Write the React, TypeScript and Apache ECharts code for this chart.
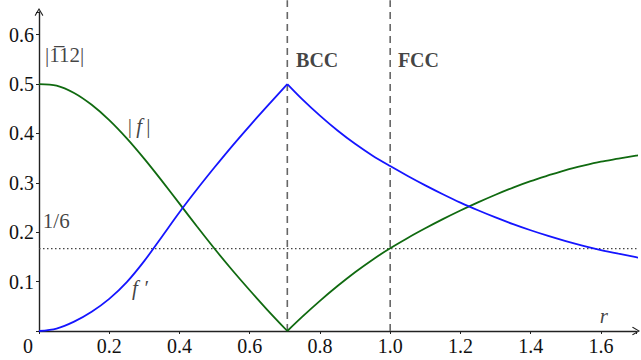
import React, { useEffect, useRef } from "react";
import * as echarts from "echarts";

// r values on each side of the BCC cusp (r = 1/sqrt(2))
const rLeft = [0, 0.05, 0.1, 0.15, 0.2, 0.25, 0.3, 0.35, 0.4, 0.45, 0.5, 0.55, 0.6, 0.65, 0.7071];
const rRight = [
  0.7071, 0.75, 0.8, 0.85, 0.9, 0.95, 1.0, 1.05, 1.1, 1.15, 1.2, 1.25, 1.3, 1.35, 1.4, 1.45, 1.5,
  1.55, 1.6, 1.65, 1.7, 1.71,
];

// |f| (green)
const absFLeft = [0.5, 0.497, 0.482, 0.458, 0.427, 0.39, 0.3485, 0.304, 0.258, 0.2115, 0.1665, 0.1235, 0.0825, 0.043, 0];
const absFRight = [
  0, 0.029, 0.061, 0.091, 0.119, 0.1445, 0.1675, 0.1885, 0.208, 0.2265, 0.244, 0.2605, 0.276, 0.2905,
  0.3035, 0.315, 0.326, 0.335, 0.343, 0.349, 0.355, 0.356,
];

// f' (blue)
const fPrimeLeft = [0, 0.005, 0.019, 0.039, 0.065, 0.099, 0.142, 0.191, 0.2405, 0.287, 0.3315, 0.3745, 0.4155, 0.4555, 0.5];
const fPrimeRight = [
  0.5, 0.469, 0.436, 0.406, 0.379, 0.355, 0.334, 0.314, 0.295, 0.277, 0.26, 0.2445, 0.23, 0.2165,
  0.204, 0.1925, 0.182, 0.1725, 0.164, 0.1565, 0.1495, 0.148,
];

// reference lattices and the 1/6 level
const latticeR = [0.7071, 1.0];
const sixthLevel = 1 / 6;

const xTicks = [0, 0.2, 0.4, 0.6, 0.8, 1.0, 1.2, 1.4, 1.6];
const yTicks = [0.1, 0.2, 0.3, 0.4, 0.5, 0.6];

// annotations placed in data coordinates: [r, value, text]
const annotations: [number, number, string][] = [
  [0.017, 0.559, "{n||1\u030512|}"],
  [0.011, 0.223, "{n|1/6}"],
  [0.732, 0.548, "{b|BCC}"],
  [1.022, 0.548, "{b|FCC}"],
  [0.253, 0.415, "{n||\u2009}{i|f}{n|\u2009|}"],
  [0.265, 0.087, "{i|f \u2032}"],
  [1.597, 0.03, "{i|r}"],
];

const GREEN = "#106a10";
const BLUE = "#1515ff";
const SERIF = "Liberation Serif";
const INK = "#111";

const zip = (xs: number[], ys: number[]) => xs.map((x, i) => [x, ys[i]]);
const onGrid = (v: number, step: number) => Math.abs(v / step - Math.round(v / step)) < 1e-6;

const chevron = "path://M50,0 L100,82 L90,92 L50,24 L10,92 L0,82 Z";

export default function App() {
  const ref = useRef<HTMLDivElement>(null);

  useEffect(() => {
    if (!ref.current) return;
    const chart = echarts.init(ref.current, undefined, { renderer: "svg" });

    const curve = (data: number[][], color: string) => ({
      type: "line",
      data,
      smooth: 0.3,
      symbol: "none",
      clip: false,
      lineStyle: { color, width: 1.8 },
      z: 3,
    });

    const richText = {
      n: { fontFamily: SERIF, fontSize: 21, color: INK },
      i: { fontFamily: SERIF, fontSize: 21, fontStyle: "italic", color: INK },
      b: { fontFamily: SERIF, fontSize: 20, fontWeight: "bold", color: INK },
    };

    chart.setOption({
      animation: false,
      textStyle: { fontFamily: SERIF },
      grid: { left: 39, right: 5, top: 12, bottom: 29, containLabel: false },
      xAxis: {
        type: "value",
        min: 0,
        max: 1.7,
        interval: 0.2,
        splitLine: { show: false },
        axisLine: {
          lineStyle: { color: "#222", width: 1.4 },
          symbol: ["none", chevron],
          symbolSize: [10, 8],
        },
        axisTick: { length: 3, lineStyle: { color: "#222" } },
        axisLabel: {
          margin: 5,
          fontFamily: SERIF,
          fontSize: 20,
          color: INK,
          formatter: (v: number) => {
            if (!xTicks.some((t) => Math.abs(t - v) < 1e-6)) return "";
            if (v === 0) return "{o|0}";
            return v.toFixed(1);
          },
          rich: {
            o: { fontFamily: SERIF, fontSize: 20, color: INK, padding: [0, 22, 0, 0] },
          },
        },
      },
      yAxis: {
        type: "value",
        min: 0,
        max: 0.646,
        interval: 0.1,
        splitLine: { show: false },
        axisLine: {
          lineStyle: { color: "#222", width: 1.4 },
          symbol: ["none", chevron],
          symbolSize: [10, 8],
        },
        axisTick: { length: 3, lineStyle: { color: "#222" } },
        axisLabel: {
          margin: 5,
          fontFamily: SERIF,
          fontSize: 20,
          color: INK,
          formatter: (v: number) =>
            yTicks.some((t) => Math.abs(t - v) < 1e-6) && onGrid(v, 0.1) ? v.toFixed(1) : "",
        },
      },
      series: [
        // 1/6 level
        {
          type: "line",
          data: [
            [0, sixthLevel],
            [1.71, sixthLevel],
          ],
          symbol: "none",
          clip: false,
          lineStyle: { color: "#444", width: 1.2, type: [1.5, 2.5] },
          z: 1,
        },
        // BCC and FCC positions
        ...latticeR.map((r) => ({
          type: "line",
          data: [
            [r, 0],
            [r, 0.67],
          ],
          symbol: "none",
          clip: false,
          lineStyle: { color: "#666", width: 1.6, type: [7, 5] },
          z: 1,
        })),
        curve(zip(rLeft, absFLeft), GREEN),
        curve(zip(rRight, absFRight), GREEN),
        curve(zip(rLeft, fPrimeLeft), BLUE),
        curve(zip(rRight, fPrimeRight), BLUE),
        {
          type: "scatter",
          symbolSize: 0,
          silent: true,
          data: annotations.map(([r, v, t]) => ({ value: [r, v], text: t })),
          label: {
            show: true,
            position: "right",
            distance: 0,
            formatter: (p: any) => p.data.text,
            rich: richText,
          },
          z: 5,
        },
      ],
    });

    return () => chart.dispose();
  }, []);

  return (
    <div
      ref={ref}
      style={{ position: "fixed", left: 0, top: 0, width: 641, height: 360, background: "#fff" }}
    />
  );
}
